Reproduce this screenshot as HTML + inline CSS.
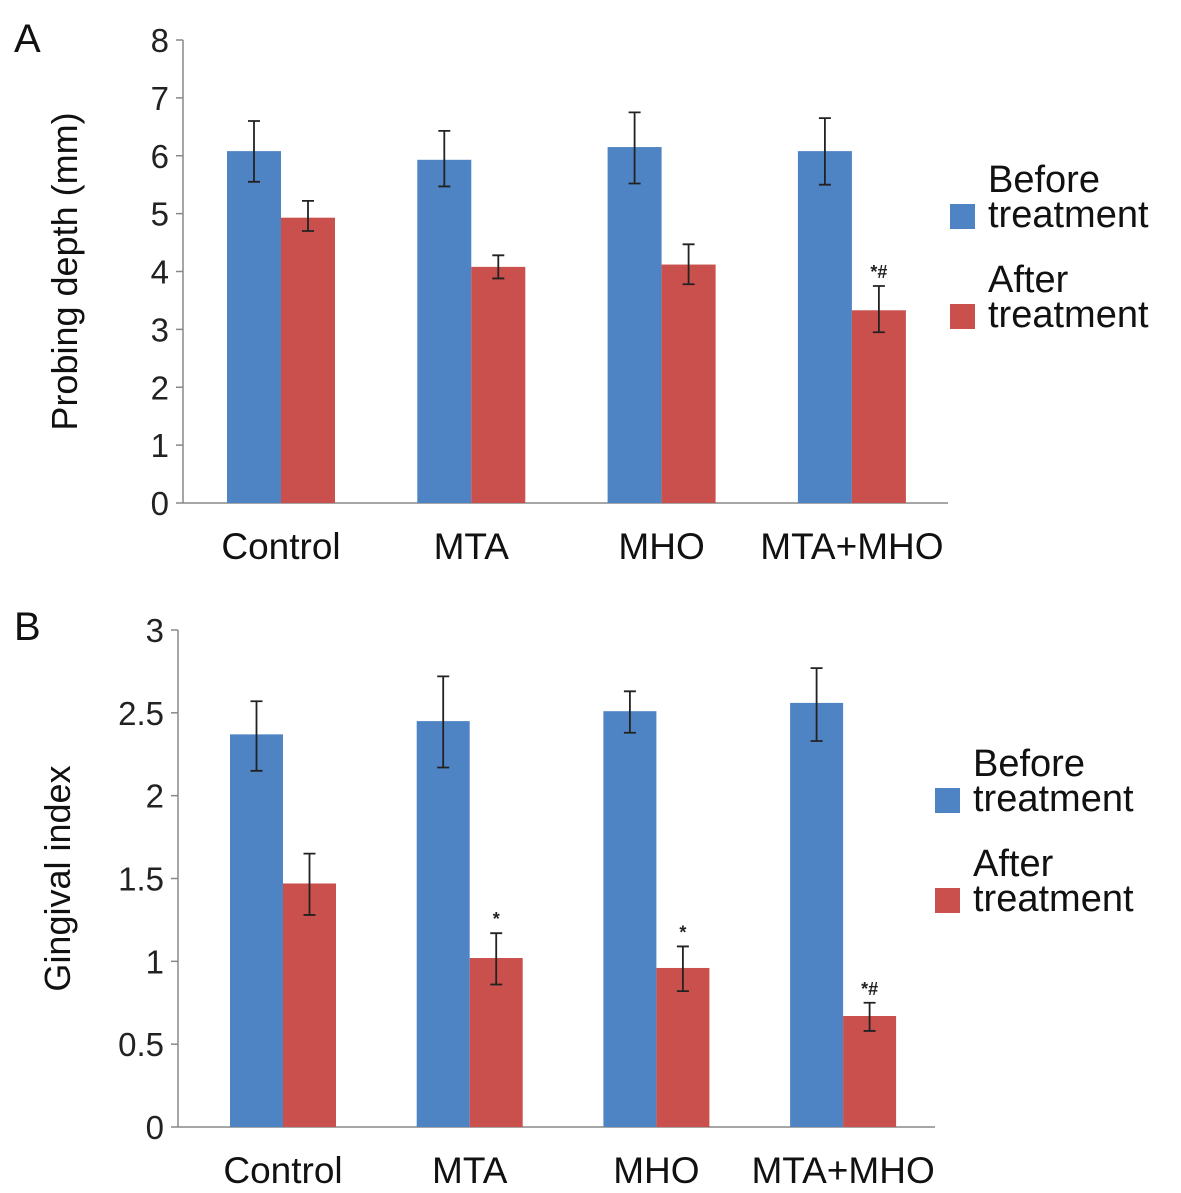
<!DOCTYPE html>
<html><head><meta charset="utf-8"><style>
body{margin:0;background:#fff}
svg{display:block;font-family:"Liberation Sans",Arial,sans-serif}
</style></head><body>
<svg id="chart" width="1181" height="1193" viewBox="0 0 1181 1193" xmlns="http://www.w3.org/2000/svg"></svg>
<script>
const categories=["Control","MTA","MHO","MTA+MHO"];
const pdBefore=[6.08,5.93,6.15,6.08];
const pdBeforeHi=[6.6,6.43,6.75,6.65];
const pdBeforeLo=[5.55,5.47,5.52,5.5];
const pdAfter=[4.93,4.08,4.12,3.33];
const pdAfterHi=[5.22,4.28,4.47,3.75];
const pdAfterLo=[4.7,3.88,3.78,2.95];
const pdMarks=["","","","*#"];
const pdTicks=["0","1","2","3","4","5","6","7","8"];
const giBefore=[2.37,2.45,2.51,2.56];
const giBeforeHi=[2.57,2.72,2.63,2.77];
const giBeforeLo=[2.15,2.17,2.38,2.33];
const giAfter=[1.47,1.02,0.96,0.67];
const giAfterHi=[1.65,1.17,1.09,0.75];
const giAfterLo=[1.28,0.86,0.82,0.58];
const giMarks=["","*","*","*#"];
const giTicks=["0","0.5","1","1.5","2","2.5","3"];

const NS="http://www.w3.org/2000/svg";
const svg=document.getElementById('chart');
function mk(tag,attrs,parent){const e=document.createElementNS(NS,tag);for(const k in attrs)e.setAttribute(k,attrs[k]);(parent||svg).appendChild(e);return e;}
const BLUE="#4f84c4",RED="#c9504c";

function panel(p){
  const g=mk('g',{});
  
  
  const y=v=>p.y0-(v/p.max)*(p.y0-p.yTop);
  const x=i=>p.c0+i*p.step;
  const ax=mk('line',{x1:p.ax,x2:p.ax,y1:p.yTop,y2:p.y0,stroke:'#888','stroke-width':1.5},g);
  
  
  const bx=mk('line',{x1:p.ax,x2:p.axEnd,y1:p.y0,y2:p.y0,stroke:'#888','stroke-width':1.5},g);
  
  
  p.ticks.forEach(t=>{
    const v=parseFloat(t),yy=y(v);
    const l=mk('line',{x1:p.ax-7,x2:p.ax,y1:yy,y2:yy,stroke:'#888','stroke-width':1.5},g);
    
    
    const tx=mk('text',{x:p.ax-14,y:yy+12,'text-anchor':'end','font-size':33,fill:'#222'},g);
    tx.textContent=t;
    
    
  });
  categories.forEach((c,i)=>{
    const cx=x(i);
    const series=[[p.b,p.bh,p.bl,BLUE,-1],[p.a,p.ah,p.al,RED,0]];
    series.forEach((s,k)=>{
      const v=s[0][i];
      const r=mk('rect',{x:cx+s[4]*p.bw,y:y(v),width:p.bw,height:p.y0-y(v),fill:s[3]},g);
      
      
      const ex=cx+s[4]*p.bw+p.bw/2;
      const e=mk('path',{d:`M${ex},${y(s[1][i])}V${y(s[2][i])}M${ex-6},${y(s[1][i])}H${ex+6}M${ex-6},${y(s[2][i])}H${ex+6}`,stroke:'#222','stroke-width':1.8,fill:'none'},g);
      
      
    });
    if(p.marks[i]){
      const m=mk('text',{x:cx+p.bw/2,y:y(p.ah[i])-8,'text-anchor':'middle','font-size':18,'font-weight':'bold',fill:'#222'},g);
      m.textContent=p.marks[i];
      
      
    }
    const lt=mk('text',{x:cx,y:p.y0+56,'text-anchor':'middle','font-size':37,fill:'#111'},g);
    lt.textContent=c;
    
    
  });
  const yt=mk('text',{x:0,y:0,'text-anchor':'middle','font-size':36,fill:'#111',transform:`translate(${p.titleX},${(p.yTop+p.y0)/2}) rotate(-90)`},g);
  yt.textContent=p.title;
  
  
  const L=mk('text',{x:p.letX,y:p.letY,'font-size':40,fill:'#111'},g);
  L.textContent=p.letter;
  
  
  [[BLUE,"Before",p.legY],[RED,"After",p.legY+100]].forEach((d,k)=>{
    const sq=mk('rect',{x:p.legX,y:d[2]+12,width:25,height:25,fill:d[0]},g);
    
    
    const t=mk('text',{x:p.legX+38,y:d[2],'font-size':38,fill:'#111'},g);
    
    
    const t1=mk('tspan',{x:p.legX+38,dy:0},t);t1.textContent=d[1];
    const t2=mk('tspan',{x:p.legX+38,dy:35},t);t2.textContent="treatment";
  });
}
panel({name:'panel-a-probing-depth',b:pdBefore,bh:pdBeforeHi,bl:pdBeforeLo,a:pdAfter,ah:pdAfterHi,al:pdAfterLo,marks:pdMarks,ticks:pdTicks,max:8,
  y0:503,yTop:40,ax:183,axEnd:948,c0:281,step:190.3,bw:54,title:'Probing depth (mm)',titleX:77,letter:'A',letX:14,letY:52,legX:950,legY:192});
panel({name:'panel-b-gingival-index',b:giBefore,bh:giBeforeHi,bl:giBeforeLo,a:giAfter,ah:giAfterHi,al:giAfterLo,marks:giMarks,ticks:giTicks,max:3,
  y0:1127,yTop:630,ax:178,axEnd:935,c0:283,step:186.7,bw:53,title:'Gingival index',titleX:70,letter:'B',letX:14,letY:640,legX:935,legY:776});
</script>
</body></html>
